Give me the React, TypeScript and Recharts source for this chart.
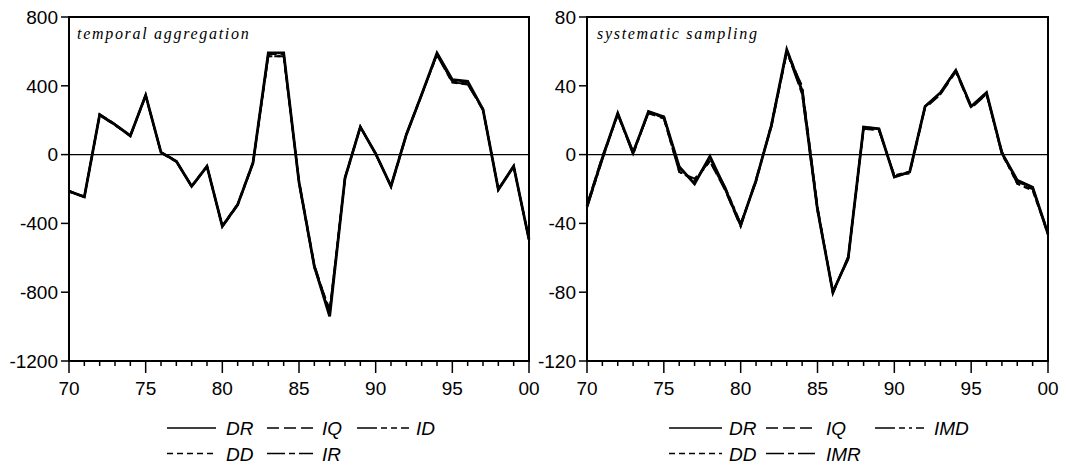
import React from 'react';
import { LineChart, Line, XAxis, YAxis, ReferenceLine, ReferenceArea, Legend } from 'recharts';

// Years 1970–2000, shown as two-digit labels
const years = [70, 71, 72, 73, 74, 75, 76, 77, 78, 79, 80, 81, 82, 83, 84, 85, 86, 87, 88, 89, 90, 91, 92, 93, 94, 95, 96, 97, 98, 99, 100];
const majorYears = [70, 75, 80, 85, 90, 95, 100];

// Temporal aggregation panel
const aggTicks = [-1200, -800, -400, 0, 400, 800];
const aggDR = [-213, -246, 232, 174, 110, 345, 13, -39, -184, -68, -417, -291, -48, 591, 591, -160, -649, -940, -136, 161, 5, -184, 116, 349, 591, 436, 426, 262, -203, -68, -494];
const aggIQ = [-210, -250, 228, 170, 112, 340, 15, -36, -188, -70, -420, -295, -52, 572, 572, -150, -640, -915, -140, 158, 8, -188, 112, 345, 585, 420, 410, 258, -200, -72, -490];
const aggID = [-216, -243, 235, 178, 106, 348, 10, -42, -182, -64, -414, -288, -45, 591, 591, -168, -655, -930, -132, 164, 2, -180, 120, 352, 578, 418, 407, 266, -206, -65, -498];
const aggDD = [-211, -248, 230, 172, 108, 343, 12, -38, -186, -67, -419, -293, -50, 572, 572, -155, -660, -900, -138, 160, 6, -186, 114, 347, 588, 430, 420, 260, -201, -70, -492];
const aggIR = [-214, -245, 233, 176, 111, 346, 14, -40, -183, -69, -416, -290, -47, 585, 585, -162, -645, -925, -134, 162, 4, -183, 118, 350, 582, 425, 415, 264, -204, -67, -496];

// Systematic sampling panel
const sampTicks = [-120, -80, -40, 0, 40, 80];
const sampDR = [-30, -2, 24, 1, 25, 22, -7, -17, -1, -20, -41, -15, 17, 61, 37, -32, -80, -60, 16, 15, -13, -10, 28, 36, 49, 28, 36, 1, -15, -19, -46];
const sampIQ = [-29, -1, 23, 2, 24, 21, -10, -14, -4, -21, -42, -14, 16, 59, 40, -30, -81, -59, 15, 14, -12, -11, 27, 35, 48, 27, 35, 2, -17, -20, -45];
const sampIMD = [-31, -3, 24, 0, 25, 22, -8, -16, -2, -19, -40, -16, 18, 60, 35, -33, -79, -61, 16, 15, -13, -10, 28, 36, 49, 28, 36, 0, -16, -19, -47];
const sampDD = [-30, -2, 23, 1, 25, 21, -10, -15, -4, -20, -41, -15, 17, 61, 39, -31, -80, -60, 16, 14, -12, -10, 28, 35, 49, 28, 35, 1, -17, -21, -46];
const sampIMR = [-30, -2, 24, 1, 24, 22, -7, -17, -1, -20, -41, -15, 17, 60, 37, -32, -80, -60, 16, 15, -13, -10, 28, 36, 49, 28, 36, 1, -15, -19, -46];

type Series = { name: string; values: number[]; dash?: string; width: number };

const aggSeries: Series[] = [
  { name: 'DR', values: aggDR, width: 2.8 },
  { name: 'IQ', values: aggIQ, dash: '12 5', width: 1.9 },
  { name: 'ID', values: aggID, dash: '20 4 6 4 6 4', width: 1.9 },
  { name: 'DD', values: aggDD, dash: '6 4', width: 1.9 },
  { name: 'IR', values: aggIR, dash: '18 4 6 4', width: 1.9 },
];

const sampSeries: Series[] = [
  { name: 'DR', values: sampDR, width: 2.8 },
  { name: 'IQ', values: sampIQ, dash: '12 5', width: 1.9 },
  { name: 'IMD', values: sampIMD, dash: '20 4 6 4 3 4', width: 1.9 },
  { name: 'DD', values: sampDD, dash: '6 4', width: 1.9 },
  { name: 'IMR', values: sampIMR, dash: '18 4 6 4', width: 1.9 },
];

const SANS = '"Liberation Sans", Arial, Helvetica, sans-serif';
const SERIF = '"Liberation Serif", "Times New Roman", Times, serif';

const buildRows = (series: Series[]) =>
  years.map((year, i) => {
    const row: Record<string, number> = { year };
    series.forEach((s) => {
      row[s.name] = s.values[i];
    });
    return row;
  });

// Year axis: long ticks with labels every 5 years, short ticks in between
const YearTick = (props: any) => {
  const { x, y, payload } = props;
  const v = payload.value as number;
  const major = majorYears.includes(v);
  const label = v === 100 ? '00' : String(v);
  return (
    <g>
      <line x1={x} x2={x} y1={y} y2={y + (major ? 12 : 5)} stroke="#000" strokeWidth={1.5} />
      {major && (
        <text x={x} y={y + 34} textAnchor="middle" fontSize={19} fontFamily={SANS} fill="#000">
          {label}
        </text>
      )}
    </g>
  );
};

type LegendCol = { x1: number; x2: number; tx: number };

const makeLegend = (series: Series[], cols: LegendCol[], rowsY: number[], width: number) => () => (
  <svg width={width} height={60} style={{ display: 'block', overflow: 'visible' }}>
    {series.map((s, i) => {
      const col = cols[i % 3];
      const cy = rowsY[Math.floor(i / 3)];
      return (
        <g key={s.name}>
          <line x1={col.x1} x2={col.x2} y1={cy} y2={cy} stroke="#000" strokeWidth={1.6} strokeDasharray={s.dash} />
          <text x={col.tx} y={cy + 7} fontSize={19} fontStyle="italic" fontFamily={SANS} fill="#000">
            {s.name}
          </text>
        </g>
      );
    })}
  </svg>
);

type PanelProps = {
  title: string;
  series: Series[];
  ticks: number[];
  width: number;
  axisWidth: number;
  marginRight: number;
  legendCols: LegendCol[];
  titleLeft: number;
};

const Panel = ({ title, series, ticks, width, axisWidth, marginRight, legendCols, titleLeft }: PanelProps) => {
  const rows = buildRows(series);
  const lo = ticks[0];
  const hi = ticks[ticks.length - 1];
  return (
    <div style={{ position: 'relative', width, height: 469 }}>
      <LineChart width={width} height={469} data={rows} margin={{ top: 17, right: marginRight, bottom: 68, left: 0 }}>
        <XAxis
          dataKey="year"
          type="number"
          domain={[70, 100]}
          ticks={years}
          interval={0}
          height={40}
          tickSize={0}
          tickMargin={0}
          tickLine={false}
          tick={<YearTick />}
          axisLine={{ stroke: '#000', strokeWidth: 2 }}
        />
        <YAxis
          type="number"
          domain={[lo, hi]}
          ticks={ticks}
          interval={0}
          width={axisWidth}
          tickSize={8}
          tickMargin={3}
          tickLine={{ stroke: '#000', strokeWidth: 1.5 }}
          axisLine={{ stroke: '#000', strokeWidth: 2 }}
          tick={{ fontSize: 19, fontFamily: SANS, fill: '#000' }}
          allowDataOverflow
        />
        <ReferenceArea x1={70} x2={100} y1={lo} y2={hi} fill="none" stroke="#000" strokeWidth={2} ifOverflow="visible" />
        <ReferenceLine y={0} stroke="#000" strokeWidth={1.3} />
        {series.map((s) => (
          <Line
            key={s.name}
            type="linear"
            dataKey={s.name}
            stroke="#000"
            strokeWidth={s.width}
            strokeDasharray={s.dash}
            dot={false}
            activeDot={false}
            isAnimationActive={false}
          />
        ))}
        <Legend
          layout="horizontal"
          verticalAlign="middle"
          align="center"
          wrapperStyle={{ top: 410, left: 0, width, height: 60 }}
          content={makeLegend(series, legendCols, [18, 43.5], width)}
        />
      </LineChart>
      <div
        style={{
          position: 'absolute',
          left: titleLeft,
          top: 26,
          fontFamily: SERIF,
          fontStyle: 'italic',
          fontSize: 16,
          lineHeight: '16px',
          letterSpacing: 1.7,
          color: '#000',
          whiteSpace: 'nowrap',
        }}
      >
        {title}
      </div>
    </div>
  );
};

export default function App() {
  return (
    <div style={{ position: 'absolute', left: 0, top: 0, width: 1066, height: 469, background: '#fff', overflow: 'hidden' }}>
      <div style={{ position: 'absolute', left: 0, top: 0 }}>
        <Panel
          title="temporal aggregation"
          series={aggSeries}
          ticks={aggTicks}
          width={545}
          axisWidth={69}
          marginRight={16}
          titleLeft={77}
          legendCols={[
            { x1: 167, x2: 216, tx: 226 },
            { x1: 267, x2: 313, tx: 322 },
            { x1: 357, x2: 409, tx: 416 },
          ]}
        />
      </div>
      <div style={{ position: 'absolute', left: 500, top: 0 }}>
        <Panel
          title="systematic sampling"
          series={sampSeries}
          ticks={sampTicks}
          width={566}
          axisWidth={87}
          marginRight={18}
          titleLeft={97}
          legendCols={[
            { x1: 169, x2: 222, tx: 229 },
            { x1: 266, x2: 315, tx: 326 },
            { x1: 375, x2: 424, tx: 434 },
          ]}
        />
      </div>
    </div>
  );
}
